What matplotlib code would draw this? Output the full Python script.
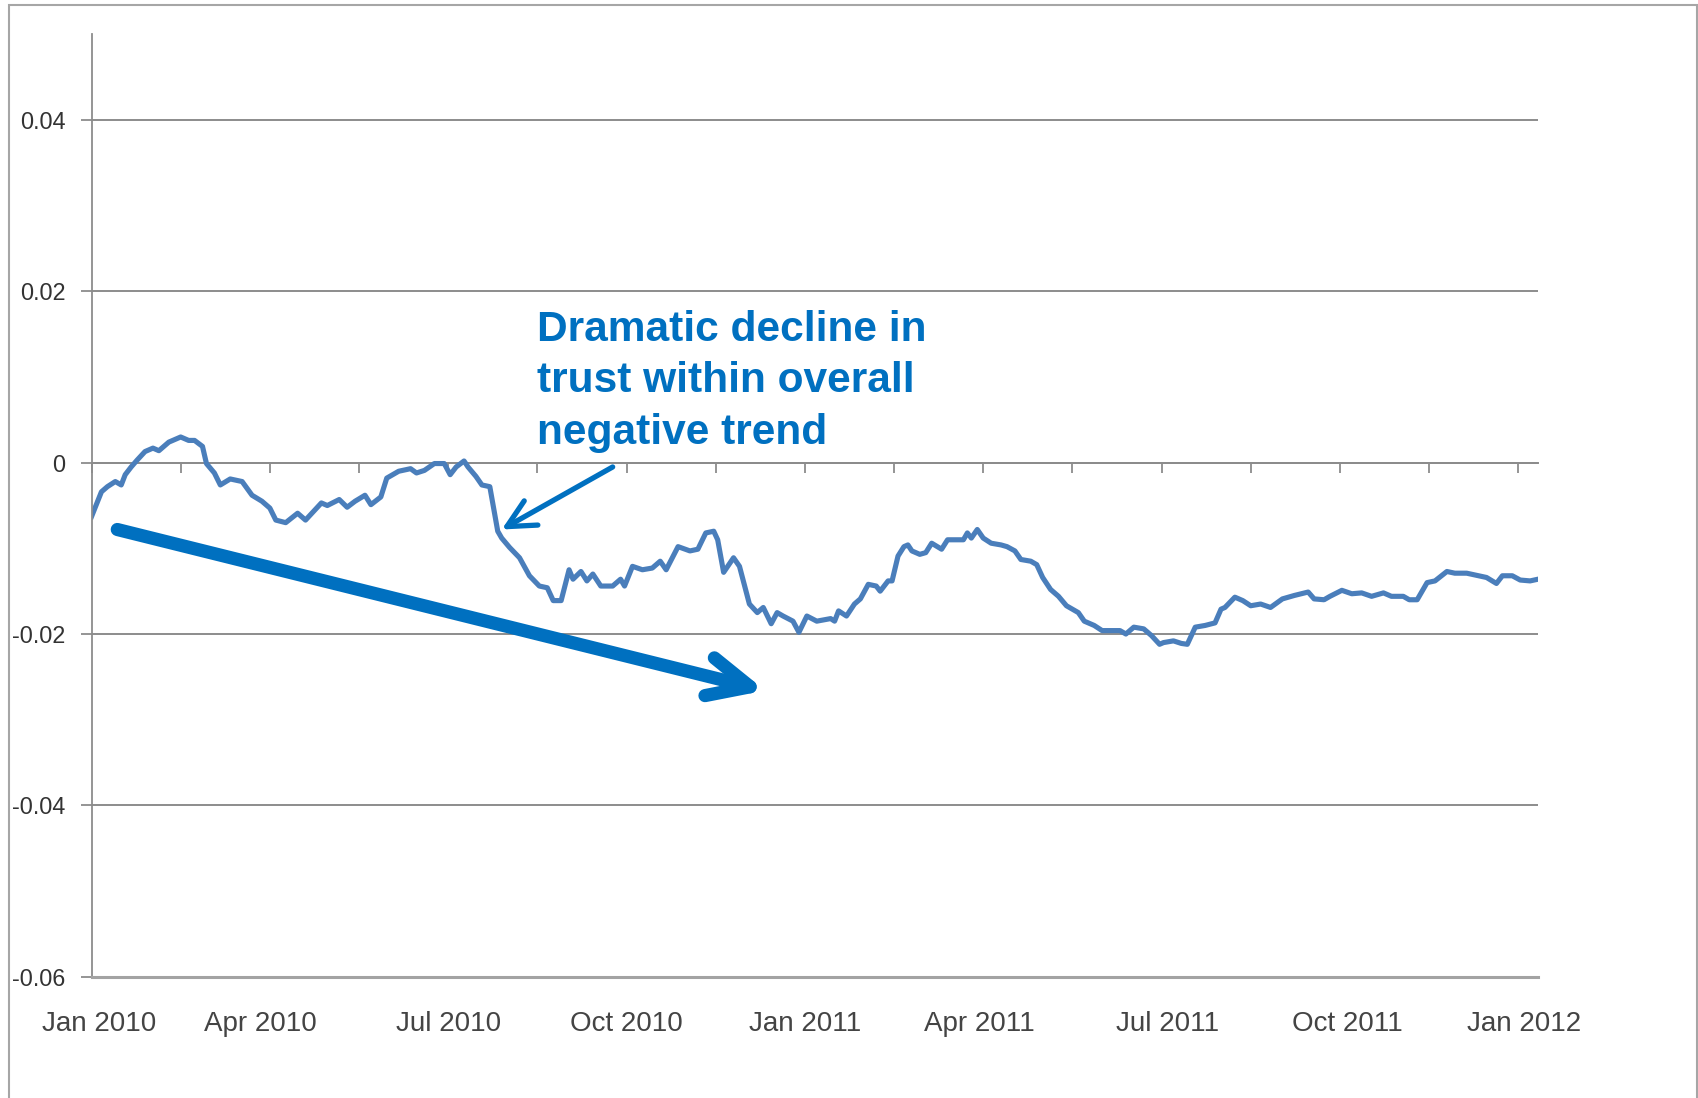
import matplotlib.pyplot as plt
import matplotlib.patches as mpatches

# serie (dias desde 1 ene 2010, valor)
dias = [0, 5, 8, 12, 15, 17, 20, 23, 27, 31, 34, 39, 45, 49, 52, 56, 58, 62, 65, 70,
        76, 81, 86, 90, 93, 98, 104, 108, 116, 119, 125, 129, 133, 138, 141, 146, 149,
        155, 161, 164, 168, 173, 178, 181, 184, 188, 190, 194, 197, 201, 205, 207, 211,
        216, 221, 226, 230, 233, 237, 241, 243, 247, 250, 253, 257, 263, 267, 269, 273,
        278, 283, 287, 290, 296, 302, 306, 310, 314, 316, 319, 324, 327, 332, 336, 339,
        343, 346, 349, 354, 357, 361, 366, 373, 375, 377, 381, 385, 388, 392, 396, 398,
        402, 404, 407, 410, 412, 414, 418, 421, 424, 429, 432, 440, 442, 444, 447, 450,
        454, 459, 462, 466, 469, 474, 477, 480, 484, 488, 492, 498, 501, 506, 510, 519,
        522, 526, 531, 535, 539, 541, 546, 550, 553, 557, 562, 567, 570, 572, 577, 581,
        585, 590, 595, 601, 607, 614, 617, 622, 625, 631, 636, 641, 646, 652, 656, 662,
        665, 669, 674, 678, 684, 688, 694, 700, 704, 709, 712, 717, 721, 726, 730]
confianza = [-0.0063, -0.0034, -0.0028, -0.0022, -0.0026, -0.0014, -0.0005, 0.0003,
             0.0013, 0.0017, 0.0014, 0.0024, 0.0030, 0.0026, 0.0026, 0.0019, -0.0001,
             -0.0012, -0.0026, -0.0019, -0.0022, -0.0038, -0.0045, -0.0053, -0.0067,
             -0.0070, -0.0059, -0.0067, -0.0047, -0.0050, -0.0043, -0.0052, -0.0045,
             -0.0038, -0.0049, -0.0040, -0.0018, -0.0010, -0.0007, -0.0012, -0.0009,
             -0.0001, -0.0001, -0.0014, -0.0005, 0.0002, -0.0005, -0.0016, -0.0026,
             -0.0028, -0.0080, -0.0088, -0.0099, -0.0111, -0.0132, -0.0144, -0.0146,
             -0.0161, -0.0161, -0.0125, -0.0136, -0.0127, -0.0138, -0.0130, -0.0144,
             -0.0144, -0.0136, -0.0144, -0.0121, -0.0125, -0.0123, -0.0115, -0.0125,
             -0.0098, -0.0103, -0.0101, -0.0082, -0.0080, -0.0090, -0.0128, -0.0111,
             -0.0121, -0.0165, -0.0175, -0.0169, -0.0188, -0.0175, -0.0179, -0.0185,
             -0.0198, -0.0179, -0.0185, -0.0182, -0.0185, -0.0173, -0.0179, -0.0165,
             -0.0159, -0.0142, -0.0144, -0.0150, -0.0138, -0.0138, -0.0109, -0.0098,
             -0.0096, -0.0103, -0.0107, -0.0105, -0.0094, -0.0101, -0.0090, -0.0090,
             -0.0082, -0.0088, -0.0078, -0.0088, -0.0094, -0.0096, -0.0098, -0.0103,
             -0.0113, -0.0115, -0.0119, -0.0134, -0.0148, -0.0156, -0.0167, -0.0175,
             -0.0185, -0.0190, -0.0196, -0.0196, -0.0200, -0.0192, -0.0194, -0.0202,
             -0.0212, -0.0210, -0.0208, -0.0211, -0.0212, -0.0192, -0.0190, -0.0187,
             -0.0171, -0.0169, -0.0157, -0.0161, -0.0167, -0.0165, -0.0169, -0.0159,
             -0.0155, -0.0151, -0.0159, -0.0160, -0.0156, -0.0149, -0.0153, -0.0152,
             -0.0156, -0.0152, -0.0156, -0.0156, -0.0160, -0.0160, -0.0140, -0.0138,
             -0.0127, -0.0129, -0.0129, -0.0132, -0.0134, -0.0141, -0.0132, -0.0132,
             -0.0137, -0.0138, -0.0136]

# etiquetas del eje x
etiquetasX = ['Jan 2010', 'Apr 2010', 'Jul 2010', 'Oct 2010', 'Jan 2011',
              'Apr 2011', 'Jul 2011', 'Oct 2011', 'Jan 2012']
posEtiquetasX = [4, 85, 180, 270, 360, 448, 543, 634, 723]
marcasCero = list(range(0, 721, 45))
marcasY = [-0.06, -0.04, -0.02, 0, 0.02, 0.04]
etiquetasY = ['-0.06', '-0.04', '-0.02', '0', '0.02', '0.04']

texto = 'Dramatic decline in\ntrust within overall\nnegative trend'
azul = '#0070c0'
gris = '#8c8c8c'

plt.rcParams['font.family'] = ['Liberation Sans', 'DejaVu Sans']

fig = plt.figure(figsize=(16.98, 10.98), dpi=100)
ax = fig.add_axes([0.0539, 0.1105, 0.8519, 0.8582])

ax.plot(dias, confianza, color='#4a7ebb', lw=3.7, solid_joinstyle='round')

ax.set_xlim(0, 730)
ax.set_ylim(-0.06, 0.05)

# eje y y rejilla
ax.set_yticks(marcasY)
ax.set_yticklabels(etiquetasY)
ax.tick_params(axis='y', length=8, width=1.3, color=gris, pad=11,
               labelsize=16.8, labelcolor='#333333')
ax.yaxis.grid(True, color=gris, lw=1.4)
ax.set_axisbelow(True)

# eje x (etiquetas abajo)
ax.set_xticks(posEtiquetasX)
ax.set_xticklabels(etiquetasX)
ax.tick_params(axis='x', length=0, pad=25, labelsize=20, labelcolor='#444444')

for lado in ['top', 'right']:
    ax.spines[lado].set_visible(False)
ax.spines['left'].set_color(gris)
ax.spines['left'].set_linewidth(1.3)
ax.spines['bottom'].set_color('#a3a3a3')
ax.spines['bottom'].set_linewidth(2.2)

# eje de categorias en cero con marcas
sec = ax.secondary_xaxis(0, transform=ax.transData)
sec.set_xticks(marcasCero)
sec.tick_params(axis='x', direction='out', length=7, width=1.3, color=gris,
                labelbottom=False)
sec.spines['bottom'].set_color(gris)
sec.spines['bottom'].set_linewidth(1.4)

# anotaciones
ax.text(225, 0.0178, texto, color=azul, fontsize=30.6, fontweight='bold',
        va='top', ha='left', linespacing=1.36)
ax.annotate('', xy=(207, -0.0078), xytext=(263, -0.0005),
            arrowprops=dict(arrowstyle='->, head_length=2.0, head_width=1.0',
                            mutation_scale=10, color=azul, lw=3.8,
                            shrinkA=0, shrinkB=0))
ax.annotate('', xy=(340, -0.0266), xytext=(13, -0.0078),
            arrowprops=dict(arrowstyle='->, head_length=3.0, head_width=1.4',
                            mutation_scale=10, color=azul, lw=9.5,
                            shrinkA=0, shrinkB=0, capstyle='round'))

# marco de la diapositiva
marco = mpatches.Rectangle((8.7 / 1698, -0.1), (1696.7 - 8.7) / 1698, 1.1 - 5.4 / 1098,
                           transform=fig.transFigure, fill=False,
                           edgecolor='#a6a6a6', lw=1.5, clip_on=False)
fig.patches.append(marco)

fig.savefig('out.png', dpi=100)
